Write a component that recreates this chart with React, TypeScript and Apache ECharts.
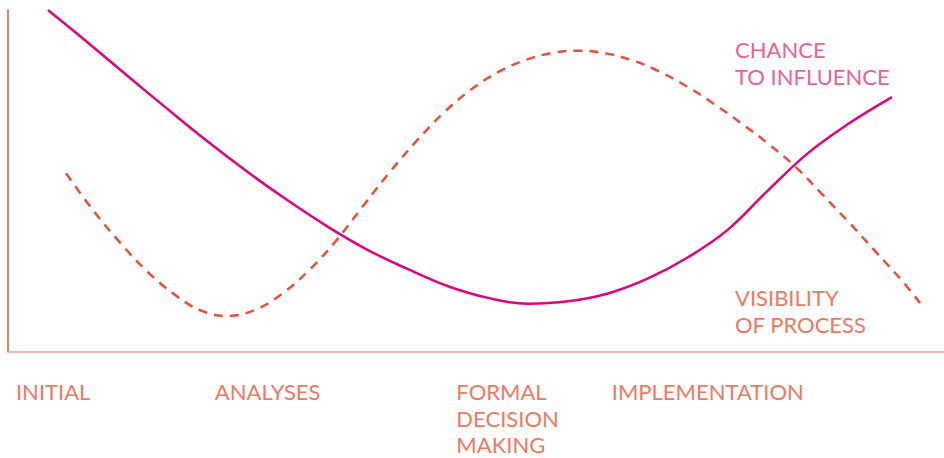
import React, { useEffect, useRef } from "react";
import * as echarts from "echarts";

// Stage labels along the timeline (x in 0–100 timeline units, left edge of label)
const stageLabels = ["INITIAL", "ANALYSES", "FORMAL\nDECISION\nMAKING", "IMPLEMENTATION"];
const stageX = [0.85, 22.1, 47.9, 64.5];

// "Chance to influence" curve (x timeline 0–100, y level 0–100)
const influenceX = [4.27, 8.55, 12.82, 17.09, 21.37, 25.64, 29.91, 34.19, 38.46, 42.74, 47.01, 51.28, 55.56, 59.83, 64.1, 68.38, 72.65, 76.92, 81.2, 85.47, 89.74, 94.44];
const influenceY = [100, 90.4, 80.6, 70.9, 61.4, 52.5, 44.2, 36.5, 29.7, 24.1, 19.1, 15.7, 14.0, 14.7, 17.0, 21.4, 27.6, 35.7, 47.2, 58.1, 66.6, 74.5];

// "Visibility of process" curve
const visibilityX = [6.2, 9.08, 11.97, 14.85, 17.74, 20.62, 23.5, 26.39, 29.27, 32.16, 35.04, 37.93, 40.81, 43.7, 46.58, 49.47, 52.35, 55.24, 58.12, 61.0, 63.89, 66.77, 69.66, 72.54, 75.43, 78.31, 81.2, 84.08, 86.97, 89.85, 92.74, 95.62, 97.44];
const visibilityY = [52.2, 41.4, 31.9, 23.5, 16.8, 12.0, 10.4, 12.2, 16.9, 23.8, 32.4, 42.6, 52.6, 61.8, 70.0, 76.7, 81.8, 85.3, 87.4, 88.1, 87.3, 85.2, 81.9, 77.6, 72.5, 66.9, 60.9, 54.2, 46.1, 37.8, 29.1, 20.4, 14.2];

const seriesNames = ["CHANCE\nTO INFLUENCE", "VISIBILITY\nOF PROCESS"];

const FONT = "Lato";
const LABEL_COLOR = "#f2785f";

export default function App() {
  const ref = useRef<HTMLDivElement>(null);
  useEffect(() => {
    if (!ref.current) return;
    const chart = echarts.init(ref.current, null, { renderer: "svg" });
    const influence = influenceX.map((x, i) => [x, influenceY[i]]);
    const visibility = visibilityX.map((x, i) => [x, visibilityY[i]]);
    chart.setOption({
      animation: false,
      backgroundColor: "#ffffff",
      grid: { left: 8, right: 0, top: 10, bottom: 103 },
      xAxis: {
        type: "value",
        min: 0,
        max: 100,
        axisLine: { show: true, lineStyle: { color: "#f4a090", width: 1.7 } },
        axisTick: { show: false },
        splitLine: { show: false },
        axisLabel: {
          customValues: stageX,
          formatter: (v: number) => {
            const i = stageX.findIndex((s) => Math.abs(s - v) < 1e-6);
            return i >= 0 ? stageLabels[i] : "";
          },
          align: "left",
          verticalAlign: "top",
          margin: 27,
          color: LABEL_COLOR,
          fontFamily: FONT,
          fontSize: 22,
          lineHeight: 26.5,
        },
      },
      yAxis: {
        type: "value",
        min: 0,
        max: 100,
        axisLine: { show: true, lineStyle: { color: "#e2553f", width: 1.5 } },
        axisTick: { show: false },
        axisLabel: { show: false },
        splitLine: { show: false },
      },
      series: [
        {
          name: seriesNames[0],
          type: "line",
          data: influence,
          smooth: 0.4,
          showSymbol: false,
          lineStyle: { color: "#e5007e", width: 2.5 },
        },
        {
          name: seriesNames[1],
          type: "line",
          data: visibility,
          smooth: 0.4,
          showSymbol: false,
          lineStyle: { color: "#ef4e36", width: 2.5, type: [9, 7] },
        },
      ],
      graphic: [
        {
          type: "text",
          left: 735,
          top: 36,
          style: {
            text: seriesNames[0],
            fill: "#ec5f9c",
            font: `22px ${FONT}`,
            lineHeight: 27,
          },
        },
        {
          type: "text",
          left: 735,
          top: 284,
          style: {
            text: seriesNames[1],
            fill: LABEL_COLOR,
            font: `22px ${FONT}`,
            lineHeight: 27,
          },
        },
      ],
    });
    return () => chart.dispose();
  }, []);
  return (
    <div
      ref={ref}
      style={{ position: "fixed", left: 0, top: 0, width: 944, height: 458 }}
    />
  );
}
